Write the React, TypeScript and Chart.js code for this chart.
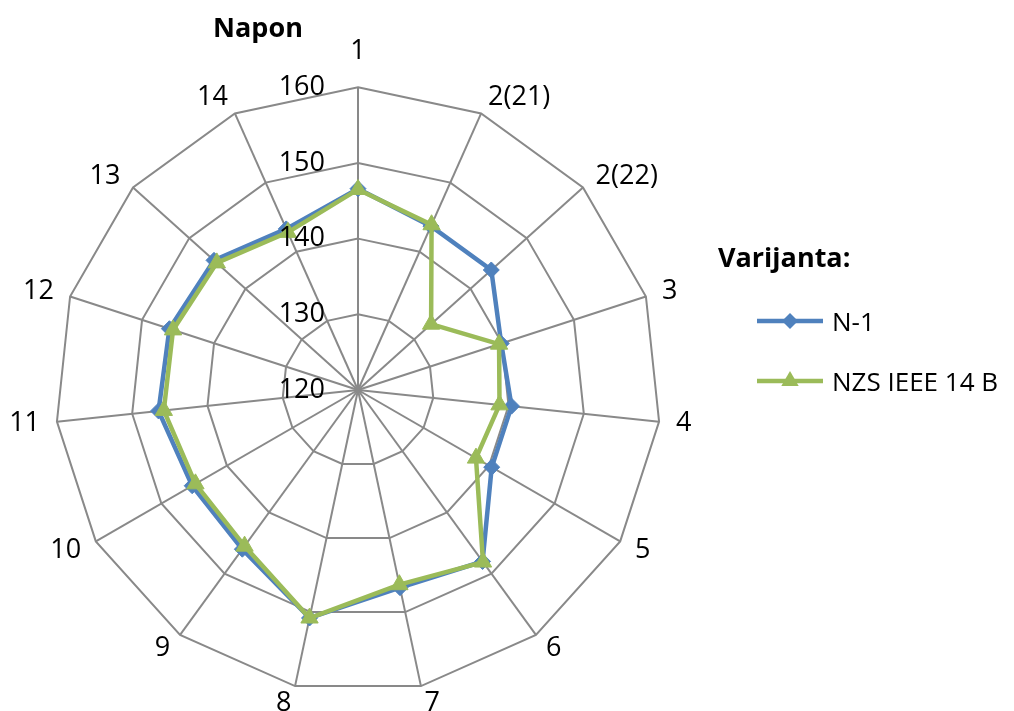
import React, { useEffect, useRef } from 'react';
import { Chart, registerables } from 'chart.js';

Chart.register(...registerables);

// ---- data ----
const CATEGORIES = ['1', '2(21)', '2(22)', '3', '4', '5', '6', '7', '8', '9', '10', '11', '12', '13', '14'];
const N1_VALUES = [146.6, 143.7, 143.7, 139.9, 140.4, 140.4, 148.0, 146.7, 150.8, 146.0, 145.3, 146.5, 146.2, 145.6, 143.3];
const NZS_VALUES = [146.5, 143.9, 133.0, 139.6, 138.8, 138.0, 148.1, 146.3, 150.8, 145.5, 144.8, 145.8, 145.7, 145.1, 142.8];
const TICK_VALUES = [120, 130, 140, 150, 160];
const SERIES_NAMES = ['N-1', 'NZS IEEE 14 B'];
const CHART_TITLE = 'Napon';
const LEGEND_TITLE = 'Varijanta:';

// ---- style ----
const FONT = "'Open Sans', sans-serif";
const BLUE = '#4F81BD';
const GREEN = '#9BBB59';
const GRID = '#898989';
const SERIES_COLORS = [BLUE, GREEN];
const LEGEND_ROW_Y = [321, 381];

function LegendMarker({ index, color }: { index: number; color: string }) {
  return (
    <svg width={66} height={30} style={{ display: 'block' }}>
      <line x1={0} y1={15} x2={66} y2={15} stroke={color} strokeWidth={4.5} strokeLinecap="round" />
      {index === 0 ? (
        <polygon points="25,15 33,7 41,15 33,23" fill={color} />
      ) : (
        <polygon points="33,5 41.7,20 24.3,20" fill={color} />
      )}
    </svg>
  );
}

export default function App() {
  const canvasRef = useRef<HTMLCanvasElement>(null);

  useEffect(() => {
    document.body.style.margin = '0';
    const canvas = canvasRef.current;
    if (!canvas) return;

    const tickLabelPlugin = {
      id: 'tickLabels',
      afterDatasetsDraw(chart: any) {
        const s = chart.scales.r;
        const ctx = chart.ctx;
        ctx.save();
        ctx.font = `27px ${FONT}`;
        ctx.fillStyle = '#000';
        ctx.textAlign = 'right';
        ctx.textBaseline = 'middle';
        TICK_VALUES.forEach((v) => {
          const d = s.getDistanceFromCenterForValue(v);
          ctx.fillText(String(v), s.xCenter - 33, s.yCenter - d);
        });
        ctx.restore();
      },
    };

    const chart = new Chart(canvas, {
      type: 'radar',
      data: {
        labels: CATEGORIES,
        datasets: [
          {
            label: SERIES_NAMES[0],
            data: N1_VALUES,
            borderColor: BLUE,
            backgroundColor: BLUE,
            pointBackgroundColor: BLUE,
            pointBorderColor: BLUE,
            pointBorderWidth: 1,
            pointStyle: 'rectRot',
            pointRadius: 8,
            borderWidth: 4.5,
            fill: false,
            order: 1,
          },
          {
            label: SERIES_NAMES[1],
            data: NZS_VALUES,
            borderColor: GREEN,
            backgroundColor: GREEN,
            pointBackgroundColor: GREEN,
            pointBorderColor: GREEN,
            pointBorderWidth: 1,
            pointStyle: 'triangle',
            pointRadius: 10,
            borderWidth: 4.5,
            fill: false,
            order: 0,
          },
        ],
      },
      options: {
        responsive: false,
        animation: false,
        layout: { padding: { left: 18, top: 38, right: 282, bottom: 14 } },
        plugins: {
          legend: { display: false },
          title: { display: false },
          tooltip: { enabled: false },
        },
        elements: { line: { tension: 0 } },
        scales: {
          r: {
            min: 120,
            max: 160,
            ticks: { display: false, stepSize: 10 },
            grid: { color: GRID, lineWidth: 2, circular: false },
            angleLines: { color: GRID, lineWidth: 2 },
            pointLabels: {
              display: true,
              color: '#000',
              font: { family: FONT, size: 27, lineHeight: 0.01 },
              padding: (ctx: any) => (ctx.index === 0 ? 36 : 17),
            },
          },
        },
      },
      plugins: [tickLabelPlugin],
    } as any);

    return () => chart.destroy();
  }, []);

  return (
    <div
      style={{
        position: 'fixed',
        left: 0,
        top: 0,
        width: 1014,
        height: 711,
        overflow: 'hidden',
        background: '#fff',
      }}
    >
      <canvas
        ref={canvasRef}
        width={1100}
        height={730}
        style={{ position: 'absolute', left: -60, top: 0 }}
      />
      <div
        style={{
          position: 'absolute',
          left: 158,
          top: 13,
          width: 200,
          textAlign: 'center',
          font: `bold 27px ${FONT}`,
          lineHeight: '27px',
          color: '#000',
          whiteSpace: 'nowrap',
        }}
      >
        {CHART_TITLE}
      </div>
      <div
        style={{
          position: 'absolute',
          left: 718,
          top: 243,
          font: `bold 27px ${FONT}`,
          lineHeight: '27px',
          color: '#000',
          whiteSpace: 'nowrap',
        }}
      >
        {LEGEND_TITLE}
      </div>
      {SERIES_NAMES.map((name, i) => (
        <div
          key={name}
          style={{
            position: 'absolute',
            left: 757,
            top: LEGEND_ROW_Y[i] - 15,
            height: 30,
            display: 'flex',
            alignItems: 'center',
            whiteSpace: 'nowrap',
          }}
        >
          <LegendMarker index={i} color={SERIES_COLORS[i]} />
          <span style={{ marginLeft: 9, font: `26px ${FONT}`, lineHeight: '26px', color: '#000' }}>{name}</span>
        </div>
      ))}
    </div>
  );
}
